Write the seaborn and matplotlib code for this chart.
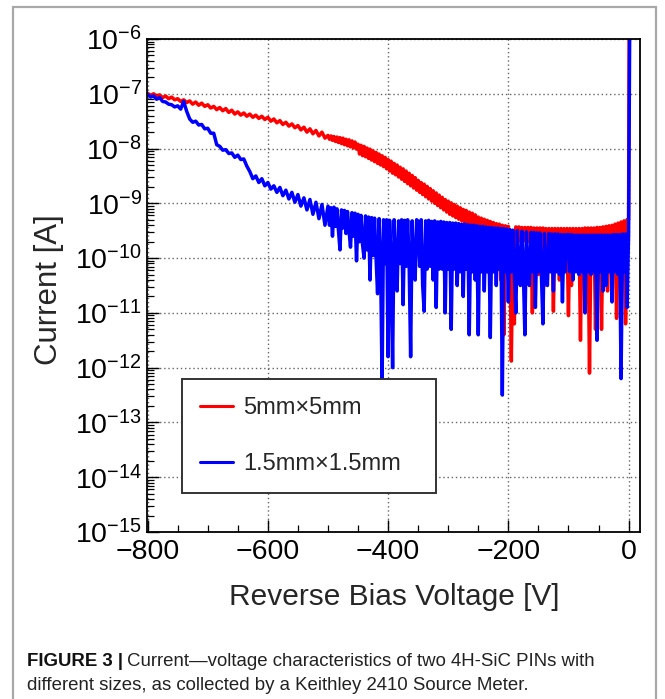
import numpy as np
import pandas as pd
import matplotlib
matplotlib.use("Agg")
import matplotlib.pyplot as plt
import seaborn as sns
from matplotlib.ticker import LogLocator, NullFormatter, FixedLocator
from matplotlib.lines import Line2D
from matplotlib import font_manager

# ---------------- data ----------------
series_labels = ["5mm\u00d75mm", "1.5mm\u00d71.5mm"]
series_colors = ["#ff0000", "#0000ff"]

# measurement sweep (5 V steps down to -505 V, then 2.5 V steps)
voltage_sweep = [
    -800, -795, -790, -785, -780, -775, -770, -765, -760, -755,
    -750, -745, -740, -735, -730, -725, -720, -715, -710, -705,
    -700, -695, -690, -685, -680, -675, -670, -665, -660, -655,
    -650, -645, -640, -635, -630, -625, -620, -615, -610, -605,
    -600, -595, -590, -585, -580, -575, -570, -565, -560, -555,
    -550, -545, -540, -535, -530, -525, -520, -515, -510, -505,
    -500, -497.5, -495, -492.5, -490, -487.5, -485, -482.5, -480, -477.5,
    -475, -472.5, -470, -467.5, -465, -462.5, -460, -457.5, -455, -452.5,
    -450, -447.5, -445, -442.5, -440, -437.5, -435, -432.5, -430, -427.5,
    -425, -422.5, -420, -417.5, -415, -412.5, -410, -407.5, -405, -402.5,
    -400, -397.5, -395, -392.5, -390, -387.5, -385, -382.5, -380, -377.5,
    -375, -372.5, -370, -367.5, -365, -362.5, -360, -357.5, -355, -352.5,
    -350, -347.5, -345, -342.5, -340, -337.5, -335, -332.5, -330, -327.5,
    -325, -322.5, -320, -317.5, -315, -312.5, -310, -307.5, -305, -302.5,
    -300, -297.5, -295, -292.5, -290, -287.5, -285, -282.5, -280, -277.5,
    -275, -272.5, -270, -267.5, -265, -262.5, -260, -257.5, -255, -252.5,
    -250, -247.5, -245, -242.5, -240, -237.5, -235, -232.5, -230, -227.5,
    -225, -222.5, -220, -217.5, -215, -212.5, -210, -207.5, -205, -202.5,
    -200, -197.5, -195, -192.5, -190, -187.5, -185, -182.5, -180, -177.5,
    -175, -172.5, -170, -167.5, -165, -162.5, -160, -157.5, -155, -152.5,
    -150, -147.5, -145, -142.5, -140, -137.5, -135, -132.5, -130, -127.5,
    -125, -122.5, -120, -117.5, -115, -112.5, -110, -107.5, -105, -102.5,
    -100, -97.5, -95, -92.5, -90, -87.5, -85, -82.5, -80, -77.5,
    -75, -72.5, -70, -67.5, -65, -62.5, -60, -57.5, -55, -52.5,
    -50, -47.5, -45, -42.5, -40, -37.5, -35, -32.5, -30, -27.5,
    -25, -22.5, -20, -17.5, -15, -12.5, -10, -7.5, -5, -2.5,
    0,
]
breakdown_voltage_red = 1
breakdown_voltage_blue = 2

log10_current_red = [
    -6.99, -7.03, -7.00, -7.05, -7.02, -7.07, -7.04, -7.09, -7.06, -7.11,
    -7.09, -7.14, -7.11, -7.16, -7.13, -7.19, -7.15, -7.21, -7.17, -7.23,
    -7.20, -7.26, -7.23, -7.29, -7.25, -7.31, -7.27, -7.34, -7.30, -7.37,
    -7.33, -7.39, -7.35, -7.41, -7.37, -7.43, -7.39, -7.45, -7.41, -7.47,
    -7.43, -7.50, -7.46, -7.53, -7.49, -7.56, -7.52, -7.59, -7.55, -7.62,
    -7.58, -7.66, -7.61, -7.70, -7.64, -7.73, -7.67, -7.77, -7.70, -7.81,
    -7.76, -7.83, -7.77, -7.85, -7.78, -7.87, -7.79, -7.89, -7.80, -7.91,
    -7.81, -7.93, -7.83, -7.95, -7.84, -7.97, -7.86, -7.99, -7.88, -8.01,
    -7.92, -8.10, -7.94, -8.13, -7.96, -8.15, -7.99, -8.18, -8.01, -8.21,
    -8.04, -8.24, -8.07, -8.27, -8.10, -8.30, -8.13, -8.33, -8.16, -8.37,
    -8.20, -8.41, -8.23, -8.45, -8.27, -8.48, -8.30, -8.52, -8.34, -8.56,
    -8.37, -8.60, -8.41, -8.64, -8.45, -8.68, -8.49, -8.72, -8.53, -8.76,
    -8.58, -8.80, -8.62, -8.84, -8.65, -8.88, -8.69, -8.92, -8.73, -8.96,
    -8.77, -9.00, -8.81, -9.04, -8.85, -9.08, -8.89, -9.12, -8.93, -9.16,
    -8.96, -9.20, -8.99, -9.23, -9.02, -9.26, -9.05, -9.29, -9.08, -9.32,
    -9.11, -9.35, -9.13, -9.38, -9.16, -9.40, -9.18, -9.43, -9.21, -9.46,
    -9.25, -9.50, -9.27, -9.52, -9.29, -9.55, -9.31, -9.57, -9.33, -9.60,
    -9.35, -9.62, -9.37, -9.64, -9.38, -10.40, -9.40, -11.40, -9.41, -9.66,
    -9.42, -9.68, -11.88, -9.68, -11.20, -9.43, -9.68, -9.43, -9.69, -9.44,
    -9.69, -9.44, -9.70, -9.44, -9.70, -9.44, -11.00, -9.45, -9.70, -9.45,
    -10.30, -9.45, -9.70, -9.45, -10.50, -9.46, -9.70, -9.46, -9.70, -9.46,
    -10.97, -9.46, -9.70, -9.46, -10.40, -9.46, -9.70, -9.46, -9.70, -9.46,
    -11.05, -9.46, -10.50, -9.46, -9.70, -9.46, -9.70, -9.46, -11.50, -9.46,
    -9.70, -9.45, -10.80, -9.45, -12.10, -9.45, -9.70, -9.45, -11.30, -9.44,
    -9.70, -9.44, -11.30, -9.43, -9.70, -9.42, -10.60, -9.41, -9.68, -9.40,
    -9.66, -9.38, -11.10, -9.36, -9.62, -9.34, -9.60, -9.32, -11.20, -9.30,
    -9.30,
    -5.50,
]

log10_current_blue = [
    -7.01, -7.06, -7.04, -7.10, -7.07, -7.14, -7.15, -7.19, -7.20, -7.24,
    -7.22, -7.28, -7.14, -7.32, -7.46, -7.52, -7.50, -7.57, -7.56, -7.64,
    -7.63, -7.72, -7.72, -7.93, -7.96, -8.03, -8.02, -8.09, -8.08, -8.16,
    -8.12, -8.20, -8.19, -8.32, -8.42, -8.55, -8.50, -8.62, -8.55, -8.68,
    -8.62, -8.74, -8.68, -8.80, -8.71, -8.86, -8.76, -8.92, -8.80, -8.98,
    -8.84, -9.05, -8.90, -9.12, -8.93, -9.20, -8.98, -9.28, -9.02, -9.40,
    -9.05, -9.40, -9.08, -9.60, -9.07, -9.42, -9.10, -9.50, -9.85, -9.12,
    -9.45, -9.13, -9.55, -9.15, -9.50, -9.80, -9.17, -9.60, -9.18, -10.05,
    -9.20, -9.70, -9.22, -9.75, -10.00, -9.23, -9.85, -9.25, -10.40, -9.26,
    -9.95, -9.27, -10.00, -10.65, -9.28, -10.05, -12.30, -9.30, -10.10, -9.30,
    -11.80, -9.31, -10.10, -12.00, -9.30, -10.15, -10.60, -9.32, -10.10, -9.30,
    -10.85, -9.31, -10.15, -9.30, -10.10, -11.80, -9.32, -10.20, -10.40, -9.30,
    -9.33, -10.15, -9.30, -10.50, -10.97, -9.32, -10.20, -9.31, -10.15, -9.33,
    -10.40, -9.32, -10.90, -9.34, -10.20, -9.33, -10.20, -9.34, -11.00, -9.35,
    -10.20, -9.35, -11.30, -9.36, -10.20, -9.36, -10.50, -9.37, -10.25, -9.38,
    -10.70, -9.38, -10.20, -9.39, -11.40, -9.40, -10.25, -9.40, -10.40, -9.41,
    -11.40, -9.42, -10.25, -9.42, -10.60, -9.43, -10.25, -9.44, -11.45, -9.44,
    -10.25, -9.45, -10.50, -9.45, -10.20, -9.46, -12.50, -9.46, -10.25, -9.47,
    -10.80, -9.48, -10.25, -9.49, -10.30, -11.00, -9.50, -10.25, -10.50, -9.51,
    -10.25, -11.40, -9.52, -10.30, -10.50, -9.53, -10.25, -9.53, -10.90, -9.54,
    -10.25, -9.54, -10.30, -11.20, -9.55, -10.25, -10.50, -9.55, -10.25, -9.56,
    -10.60, -9.56, -10.25, -9.56, -10.30, -9.57, -10.80, -9.57, -10.25, -9.57,
    -9.57, -10.25, -9.57, -10.40, -9.58, -10.25, -9.58, -10.30, -9.58, -10.25,
    -9.58, -11.00, -9.58, -10.25, -9.58, -10.30, -9.58, -10.25, -9.58, -11.50,
    -9.58, -10.25, -9.58, -10.60, -9.58, -10.50, -9.58, -10.25, -9.58, -10.80,
    -9.57, -10.25, -9.57, -10.30, -9.57, -12.20, -9.56, -10.25, -9.56, -10.90,
    -9.56,
    -5.50,
]

x_ticks = [-800, -600, -400, -200, 0]
x_minor_ticks = [-750, -700, -650, -550, -500, -450, -350, -300, -250,
                 -150, -100, -50]
x_label = "Reverse Bias Voltage [V]"
y_label = "Current [A]"
caption_bold = "FIGURE 3 |"
caption_line1 = "Current\u2014voltage characteristics of two 4H-SiC PINs with"
caption_line2 = "different sizes, as collected by a Keithley 2410 Source Meter."

# ---------------- build table ----------------
voltage_red = voltage_sweep + [breakdown_voltage_red]
voltage_blue = voltage_sweep + [breakdown_voltage_blue]
df = pd.concat([
    pd.DataFrame({"Voltage": voltage_red,
                  "Current": np.power(10.0, log10_current_red),
                  "Device": series_labels[0]}),
    pd.DataFrame({"Voltage": voltage_blue,
                  "Current": np.power(10.0, log10_current_blue),
                  "Device": series_labels[1]}),
], ignore_index=True)

# ---------------- style ----------------
sns.set_theme(style="white")
plt.rcParams["font.family"] = ["Liberation Sans", "DejaVu Sans"]
plt.rcParams["mathtext.fontset"] = "custom"
plt.rcParams["mathtext.rm"] = "Liberation Sans"
plt.rcParams["mathtext.it"] = "Liberation Sans:italic"
plt.rcParams["mathtext.bf"] = "Liberation Sans:bold"
plt.rcParams["axes.unicode_minus"] = True

W, H = 665, 699
fig = plt.figure(figsize=(W / 100, H / 100), dpi=100)
fig.patch.set_facecolor("white")

ax_l, ax_r, ax_t, ax_b = 147, 640, 39, 532
ax = fig.add_axes([ax_l / W, 1 - ax_b / H, (ax_r - ax_l) / W, (ax_b - ax_t) / H])
ax.set_facecolor("white")
ax.set_yscale("log")

sns.lineplot(data=df, x="Voltage", y="Current", hue="Device",
             hue_order=series_labels, palette=series_colors,
             estimator=None, sort=False, linewidth=2.5,
             legend=False, ax=ax)
for ln in ax.get_lines():
    ln.set_solid_joinstyle("round")

ax.set_xlim(-801, 19)
ax.set_ylim(1e-15, 1e-6)

# ticks
ax.yaxis.set_major_locator(LogLocator(base=10, numticks=30))
ax.yaxis.set_minor_locator(LogLocator(base=10, subs=np.arange(2, 10), numticks=300))
ax.yaxis.set_minor_formatter(NullFormatter())
ax.xaxis.set_major_locator(FixedLocator(x_ticks))
ax.xaxis.set_minor_locator(FixedLocator(x_minor_ticks))

ax.tick_params(axis="both", which="both", direction="in", colors="black",
               top=False, right=False, bottom=True, left=True)
ax.tick_params(axis="both", which="major", length=8.5, width=1.0)
ax.tick_params(axis="both", which="minor", length=5, width=0.9)
ax.tick_params(axis="x", which="major", pad=5, labelsize=20.5)
ax.tick_params(axis="y", which="major", pad=3.5, labelsize=20.5)

ax.grid(True, which="major", axis="both", linestyle=(0, (1, 2)),
        color="#666666", linewidth=1.0)
ax.grid(False, which="minor")
ax.set_axisbelow(True)

for s in ax.spines.values():
    s.set_visible(True)
    s.set_color("black")
    s.set_linewidth(1.3)

ax.set_xlabel(x_label, fontsize=21.5)
ax.set_ylabel(y_label, fontsize=22.5)
ax.xaxis.label.set_va("center")
ax.yaxis.label.set_va("center")
ax.xaxis.set_label_coords((394 - ax_l) / (ax_r - ax_l), (ax_b - 597) / (ax_b - ax_t))
ax.yaxis.set_label_coords((49 - ax_l) / (ax_r - ax_l), (ax_b - 290) / (ax_b - ax_t))

# legend
handles = [Line2D([], [], color=c, lw=2.2) for c in series_colors]
leg = ax.legend(handles, series_labels, loc="lower left",
                bbox_to_anchor=(0.071, 0.079, 0.515, 0.235), mode="expand",
                fontsize=17, frameon=True, fancybox=False, framealpha=1,
                edgecolor="#333333", facecolor="white", borderpad=0.75,
                labelspacing=1.45, handlelength=1.4, handletextpad=0.45,
                borderaxespad=0)
leg.get_frame().set_linewidth(1.4)

# figure border (left, top, right)
bc = "#a8a8a8"
fx0, fx1, fy1 = 13 / W, 656 / W, 1 - 7 / H
for xs, ys in [([fx0, fx0], [0, fy1]), ([fx0, fx1], [fy1, fy1]), ([fx1, fx1], [0, fy1])]:
    fig.add_artist(Line2D(xs, ys, transform=fig.transFigure, color=bc, lw=1.6))

# caption
names = {f.name for f in font_manager.fontManager.ttflist}
cap_family = ["Liberation Sans Narrow"] if "Liberation Sans Narrow" in names else ["Liberation Sans"]
fig.canvas.draw()
renderer = fig.canvas.get_renderer()
probe = fig.text(27 / W, 1 - 685 / H, caption_line2, fontsize=12,
                 family=cap_family, va="center", ha="left", color="#222222")
wpx = probe.get_window_extent(renderer).width
cap_size = 12 * (503.0 / wpx)
probe.set_fontsize(cap_size)
t1 = fig.text(27 / W, 1 - 661 / H, caption_bold, fontsize=cap_size,
              family=cap_family, fontweight="bold", va="center", ha="left",
              color="#111111")
bb = t1.get_window_extent(renderer)
fig.text((bb.x1 + 0.3 * cap_size) / W, 1 - 661 / H, caption_line1,
         fontsize=cap_size, family=cap_family, va="center", ha="left",
         color="#222222")

fig.savefig("out.png", dpi=100, facecolor="white")
